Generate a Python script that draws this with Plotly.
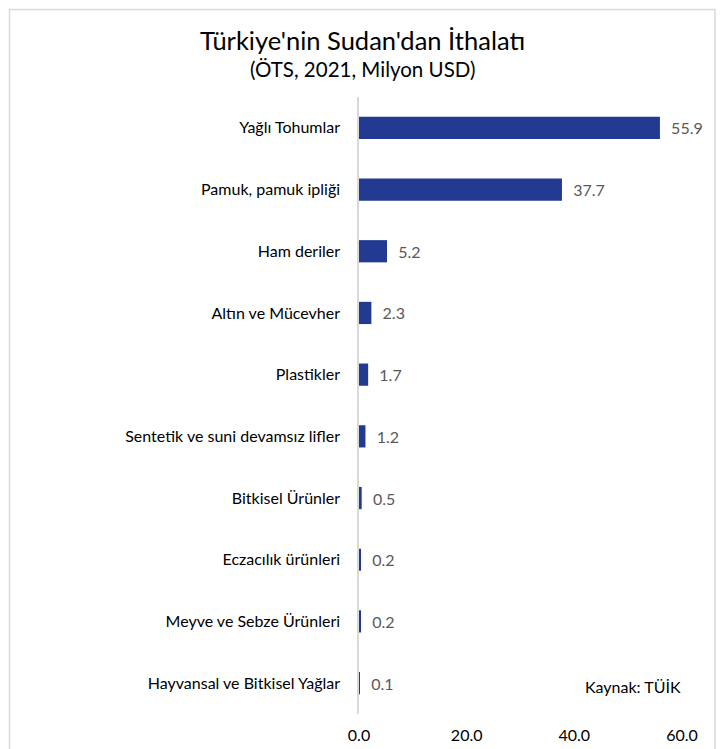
import plotly.graph_objects as go

categories = [
    "Yağlı Tohumlar",
    "Pamuk, pamuk ipliği",
    "Ham deriler",
    "Altın ve Mücevher",
    "Plastikler",
    "Sentetik ve suni devamsız lifler",
    "Bitkisel Ürünler",
    "Eczacılık ürünleri",
    "Meyve ve Sebze Ürünleri",
    "Hayvansal ve Bitkisel Yağlar",
]
values = [55.9, 37.7, 5.2, 2.3, 1.7, 1.2, 0.5, 0.2, 0.2, 0.1]
tick_vals = [0, 20, 40, 60]

FONT = "Lato"
OFF = 8  # page offset of the figure
W, H = 725, 749
L, R, T, B = 359 - OFF, W + OFF - 682, 97 - OFF, H + OFF - 714
PW = W - L - R
PH = H - T - B

def px_x(x):
    return (x - OFF - L) / PW

def px_y(y):
    return (H - B - (y - OFF)) / PH

fig = go.Figure(go.Bar(
    y=categories,
    x=values,
    orientation="h",
    marker=dict(color="#223A92", line=dict(width=0)),
    width=0.36,
    text=[f"\u00a0\u00a0{v:.1f}" for v in values],
    textposition="outside",
    textfont=dict(color="#595959", size=16, family=FONT),
    cliponaxis=False,
))

fig.update_layout(
    width=W, height=H,
    margin=dict(l=L, r=R, t=T, b=B),
    paper_bgcolor="white",
    plot_bgcolor="white",
    showlegend=False,
    font=dict(family=FONT, size=16, color="#000000"),
    xaxis=dict(
        range=[0, 60],
        tickvals=tick_vals,
        tickformat=".1f",
        showgrid=False,
        zeroline=False,
        showline=False,
        ticks="",
        ticklabelstandoff=10,
        tickfont=dict(size=16, color="#000000", family=FONT),
    ),
    yaxis=dict(
        autorange="reversed",
        showgrid=False,
        zeroline=False,
        showline=True,
        linecolor="#D9D9D9",
        linewidth=1.5,
        ticks="",
        ticklabelstandoff=14,
        tickfont=dict(size=16, color="#000000", family=FONT),
    ),
    annotations=[
        dict(text="Türkiye'nin Sudan'dan İthalatı", xref="paper", yref="paper",
             x=px_x(362), y=px_y(40), xanchor="center", yanchor="middle",
             showarrow=False, font=dict(size=25.5, family=FONT, color="#000000")),
        dict(text="(ÖTS, 2021, Milyon USD)", xref="paper", yref="paper",
             x=px_x(362), y=px_y(69), xanchor="center", yanchor="middle",
             showarrow=False, font=dict(size=20.5, family=FONT, color="#000000")),
        dict(text="Kaynak: TÜİK", xref="paper", yref="paper",
             x=px_x(633), y=px_y(686), xanchor="center", yanchor="middle",
             showarrow=False, font=dict(size=16, family=FONT, color="#000000")),
    ],
    shapes=[
        dict(type="rect", xref="paper", yref="paper",
             x0=px_x(OFF + 1.5), x1=px_x(715), y0=px_y(780), y1=px_y(OFF + 1.5),
             line=dict(color="#D9D9D9", width=1.5), fillcolor="rgba(0,0,0,0)",
             layer="below"),
    ],
)

fig.write_html("out.html")
